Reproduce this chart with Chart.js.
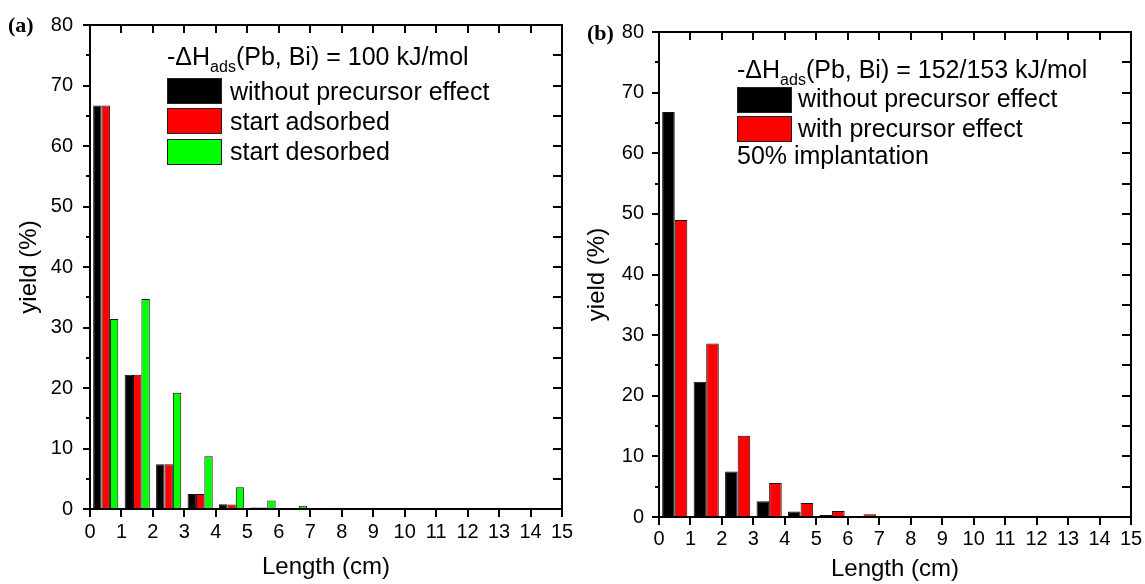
<!DOCTYPE html>
<html>
<head>
<meta charset="utf-8">
<script src="https://cdn.jsdelivr.net/npm/chart.js@4.4.1/dist/chart.umd.min.js"></script>
<style>
  body { margin: 0; background: #fff; width: 1145px; height: 584px; position: relative; overflow: hidden; }
  canvas { position: absolute; top: 0; }
  #chartA { left: 0; }
  #chartB { left: 575px; }
  .lbl { position: absolute; font-family: "Liberation Sans", Arial, sans-serif; font-size: 25px; line-height: 28px; color: #000; white-space: nowrap; }
  .lbl sub { font-size: 16px; vertical-align: -7px; line-height: 0; }
  .swatch { position: absolute; width: 55px; height: 26px; box-sizing: border-box; border: 1px solid #222; }
  .panel { position: absolute; font-family: "Liberation Serif", "Times New Roman", serif; font-weight: bold; font-size: 22px; line-height: 26px; }
</style>
</head>
<body>
<canvas id="chartA" width="575" height="584"></canvas>
<canvas id="chartB" width="570" height="584"></canvas>
<div class="panel" style="left:8px; top:12px;">(a)</div>
<div class="panel" style="left:587px; top:20px;">(b)</div>
<div id="legendA"></div>
<div id="legendB"></div>

<script>
// bin centres (cm), one bar group per 1 cm interval
let binCenters = [0.5, 1.5, 2.5, 3.5, 4.5, 5.5, 6.5, 7.5, 8.5, 9.5, 10.5, 11.5, 12.5, 13.5, 14.5];
let xTicks = [0, 1, 2, 3, 4, 5, 6, 7, 8, 9, 10, 11, 12, 13, 14, 15];

// panel (a): -dH = 100 kJ/mol
let aWithout = [66.7, 22.2, 7.4, 2.5, 0.8, 0.25, 0.08, 0.03, 0.01, 0, 0, 0, 0, 0, 0];
let aAdsorbed = [66.7, 22.2, 7.4, 2.5, 0.75, 0.25, 0.08, 0.03, 0.01, 0, 0, 0, 0, 0, 0];
let aDesorbed = [31.4, 34.7, 19.2, 8.7, 3.6, 1.4, 0.55, 0.2, 0.07, 0.02, 0.01, 0, 0, 0, 0];

// panel (b): -dH = 152/153 kJ/mol
let bWithout = [66.8, 22.3, 7.5, 2.6, 0.9, 0.35, 0.1, 0.03, 0.01, 0, 0, 0, 0, 0, 0];
let bWith = [49.0, 28.6, 13.4, 5.6, 2.3, 1.0, 0.45, 0.12, 0.04, 0.01, 0, 0, 0, 0, 0];

let seriesA = [
  { name: "without precursor effect", color: "#000000", data: aWithout },
  { name: "start adsorbed", color: "#ff0000", data: aAdsorbed },
  { name: "start desorbed", color: "#00ff00", data: aDesorbed },
];
let seriesB = [
  { name: "without precursor effect", color: "#000000", data: bWithout },
  { name: "with precursor effect", color: "#ff0000", data: bWith },
];

Chart.defaults.font.family = "'Liberation Sans', Arial, sans-serif";
Chart.defaults.color = "#000";

// box frame with tick marks (outward left/bottom, inward top/right)
const framePlugin = {
  id: "frame",
  afterDatasetsDraw(chart) {
    const ctx = chart.ctx;
    const a = chart.chartArea;
    const x = chart.scales.x;
    const y = chart.scales.y;
    ctx.save();
    ctx.strokeStyle = "#000";
    ctx.lineWidth = 2;
    ctx.strokeRect(a.left, a.top, a.right - a.left, a.bottom - a.top);
    ctx.beginPath();
    xTicks.forEach((v) => {
      const px = Math.round(x.getPixelForValue(v));
      ctx.moveTo(px, a.bottom);
      ctx.lineTo(px, a.bottom + 8);
      ctx.moveTo(px, a.top);
      ctx.lineTo(px, a.top + 8);
    });
    for (let v = 0; v <= 80; v += 5) {
      const py = Math.round(y.getPixelForValue(v));
      const len = v % 10 === 0 ? 7 : 4;
      ctx.moveTo(a.left - len, py);
      ctx.lineTo(a.left, py);
      ctx.moveTo(a.right, py);
      ctx.lineTo(a.right - 9, py);
    }
    ctx.stroke();
    ctx.restore();
  },
};

function makeChart(el, series, opt) {
  return new Chart(el, {
    type: "bar",
    data: {
      datasets: series.map((s) => ({
        label: s.name,
        data: s.data.map((v, i) => ({ x: binCenters[i], y: v })),
        backgroundColor: s.color,
        borderColor: "#111",
        borderWidth: 1,
        categoryPercentage: 0.8,
        barPercentage: 1.0,
      })),
    },
    options: {
      responsive: false,
      animation: false,
      layout: { padding: opt.padding },
      plugins: { legend: { display: false }, tooltip: { enabled: false } },
      scales: {
        x: {
          type: "linear",
          min: 0,
          max: 15,
          offset: false,
          grid: { display: false, drawTicks: false },
          border: { display: false },
          afterBuildTicks: (s) => { s.ticks = xTicks.map((v) => ({ value: v })); },
          ticks: { font: { size: 20 }, padding: opt.xPad, autoSkip: false, maxRotation: 0 },
          title: { display: true, text: "Length (cm)", font: { size: 24 }, padding: { top: 0, bottom: opt.xTitlePad } },
          afterFit: (s) => {
            s.height = opt.xHeight;
            s.paddingLeft = 0;
            s.paddingRight = 0;
          },
        },
        y: {
          min: 0,
          max: 80,
          grid: { display: false, drawTicks: false },
          border: { display: false },
          ticks: { stepSize: 10, font: { size: 20 }, padding: opt.yPad },
          title: { display: true, text: "yield (%)", font: { size: 24 }, padding: { top: opt.yTitlePad, bottom: 0 } },
          afterFit: (s) => {
            s.width = opt.yWidth;
            s.paddingTop = 0;
            s.paddingBottom = 0;
          },
        },
      },
    },
    plugins: [framePlugin],
  });
}

makeChart(document.getElementById("chartA"), seriesA, {
  padding: { left: 0, top: 25, right: 13, bottom: 0 },
  xHeight: 75, xPad: 11, xTitlePad: 2,
  yWidth: 90, yPad: 17, yTitlePad: 15,
});

makeChart(document.getElementById("chartB"), seriesB, {
  padding: { left: 0, top: 32, right: 14, bottom: 0 },
  xHeight: 67, xPad: 10, xTitlePad: 0,
  yWidth: 84, yPad: 15, yTitlePad: 8,
});

// legends inside the plot areas
function buildLegend(holder, title, series, left, titleTop, swTops, textLeft, textTops, extra) {
  let html = `<div class="lbl" style="left:${left}px; top:${titleTop}px;">${title}</div>`;
  series.forEach((s, i) => {
    html += `<div class="swatch" style="left:${left}px; top:${swTops[i]}px; background:${s.color};"></div>`;
    html += `<div class="lbl" style="left:${textLeft}px; top:${textTops[i]}px;">${s.name}</div>`;
  });
  if (extra) {
    html += `<div class="lbl" style="left:${left}px; top:${extra.top}px;">${extra.text}</div>`;
  }
  document.getElementById(holder).innerHTML = html;
}

buildLegend("legendA", "-&Delta;H<sub>ads</sub>(Pb, Bi) = 100 kJ/mol", seriesA,
  167, 42, [78, 108, 139], 230, [77, 107, 137]);
buildLegend("legendB", "-&Delta;H<sub>ads</sub>(Pb, Bi) = 152/153 kJ/mol", seriesB,
  737, 55, [87, 116], 798, [84, 114], { top: 141, text: "50% implantation" });
</script>
</body>
</html>
